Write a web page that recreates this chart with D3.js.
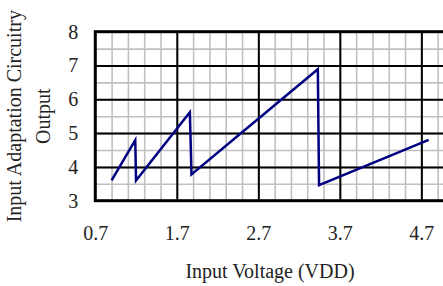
<!DOCTYPE html>
<html>
<head>
<meta charset="utf-8">
<script src="https://cdn.jsdelivr.net/npm/d3@7"></script>
<style>
  html, body { margin: 0; padding: 0; background: #fff; overflow: hidden; }
  text { font-family: "Liberation Serif", "Times New Roman", serif; fill: #222; }
</style>
</head>
<body>
<div id="chart"></div>
<script>
// values
const voltage = [0.9, 1.19, 1.2, 1.86, 1.88, 3.43, 3.445, 4.79];
const output  = [3.6, 4.79, 3.6, 5.62, 3.78, 6.89, 3.46, 4.8];
const xTicks  = [0.7, 1.7, 2.7, 3.7, 4.7];
const yTicks  = [3, 4, 5, 6, 7, 8];
const xTitle  = 'Input Voltage (VDD)';
const yTitle  = ['Input Adaptation Circuitry', 'Output'];

;(function(){
  const W = 443, H = 286;
  const plot = {left: 95.3, right: 445.8, top: 31.7, bottom: 200.7};

  const svg = d3.select('#chart').append('svg')
    .attr('width', W).attr('height', H);

  const x = d3.scaleLinear().domain([0.7, 5.0]).range([plot.left, plot.right]);
  const y = d3.scaleLinear().domain([3, 8]).range([plot.bottom, plot.top]);

  const ph = plot.bottom - plot.top, pw = plot.right - plot.left;
  const xMinor = d3.range(0.9, 5.0, 0.2).map(v => +v.toFixed(1));
  const yMinor = d3.range(3.5, 8, 0.5);
  const xMajor = xTicks.filter(v => v > 0.7);
  const yMajor = yTicks.filter(v => v > 3 && v < 8);

  // minor grid
  svg.append('g')
    .attr('transform', `translate(0,${plot.bottom})`)
    .call(d3.axisBottom(x).tickValues(xMinor).tickSize(-ph).tickFormat(''))
    .call(g => g.select('.domain').remove())
    .call(g => g.selectAll('line').attr('stroke', '#c0c0c0').attr('stroke-width', 1.6));
  svg.append('g')
    .attr('transform', `translate(${plot.left},0)`)
    .call(d3.axisLeft(y).tickValues(yMinor).tickSize(-pw).tickFormat(''))
    .call(g => g.select('.domain').remove())
    .call(g => g.selectAll('line').attr('stroke', '#c0c0c0').attr('stroke-width', 1.6));

  // major grid
  svg.append('g')
    .attr('transform', `translate(0,${plot.bottom})`)
    .call(d3.axisBottom(x).tickValues(xMajor).tickSize(-ph).tickFormat(''))
    .call(g => g.select('.domain').remove())
    .call(g => g.selectAll('line').attr('stroke', '#000').attr('stroke-width', 2));
  svg.append('g')
    .attr('transform', `translate(${plot.left},0)`)
    .call(d3.axisLeft(y).tickValues(yMajor).tickSize(-pw).tickFormat(''))
    .call(g => g.select('.domain').remove())
    .call(g => g.selectAll('line').attr('stroke', '#000').attr('stroke-width', 2));

  // plot border
  svg.append('rect')
    .attr('x', plot.left).attr('y', plot.top)
    .attr('width', pw).attr('height', ph)
    .attr('fill', 'none').attr('stroke', '#000').attr('stroke-width', 3);

  // series
  const pts = voltage.map((v, i) => [v, output[i]]);
  svg.append('path')
    .datum(pts)
    .attr('fill', 'none')
    .attr('stroke', '#000080')
    .attr('stroke-width', 2.5)
    .attr('stroke-linejoin', 'miter')
    .attr('d', d3.line().x(d => x(d[0])).y(d => y(d[1])));

  // tick labels
  svg.append('g')
    .attr('transform', `translate(${plot.left},0)`)
    .call(d3.axisLeft(y).tickValues(yTicks).tickSize(0).tickPadding(17).tickFormat(d3.format('d')))
    .call(g => g.select('.domain').remove())
    .call(g => g.selectAll('text').attr('font-size', 20).attr('font-family', null).style('fill', '#222'));
  svg.append('g')
    .attr('transform', `translate(0,${plot.bottom})`)
    .call(d3.axisBottom(x).tickValues(xTicks).tickSize(0).tickPadding(25).tickFormat(d3.format('.1f')))
    .call(g => g.select('.domain').remove())
    .call(g => g.selectAll('text').attr('font-size', 20).attr('font-family', null).style('fill', '#222'));

  // titles
  svg.append('text')
    .attr('x', 270).attr('y', 278)
    .attr('text-anchor', 'middle')
    .attr('font-size', 20)
    .text(xTitle);

  const yc = (plot.top + plot.bottom) / 2;
  svg.selectAll('.ytitle')
    .data(yTitle)
    .enter().append('text')
      .attr('class', 'ytitle')
      .attr('text-anchor', 'middle')
      .attr('font-size', 20)
      .attr('transform', (d, i) => `translate(${21 + i * 29},${yc}) rotate(-90)`)
      .text(d => d);
})();
</script>
</body>
</html>
